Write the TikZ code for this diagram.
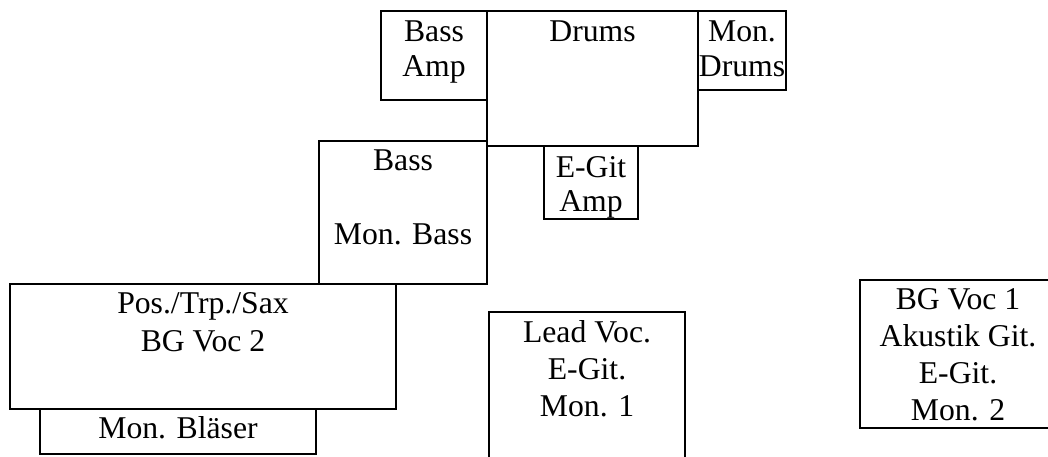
\documentclass[tikz,border=0pt]{standalone}
\usepackage{fontspec}
\setmainfont{Liberation Serif}
\begin{document}
\begin{tikzpicture}[x=1pt,y=-1pt,
  box/.style={draw=black, line width=1.8pt, anchor=north west, inner sep=0pt, outer sep=0pt},
  lbl/.style={anchor=base, align=center, inner sep=0pt},
  sk/.style={font=\fontsize{31.7}{#1}\selectfont}]
\useasboundingbox (0,0) rectangle (1048,457);
% boxes
\node[box, minimum width=106pt, minimum height=89pt] (bassamp) at (381,11) {};
\node[box, minimum width=211pt, minimum height=135pt] (drums) at (487,11) {};
\node[box, minimum width=88pt, minimum height=79pt] (mondrums) at (698,11) {};
\node[box, minimum width=94pt, minimum height=73pt] (egitamp) at (544,146) {};
\node[box, minimum width=168pt, minimum height=143pt] (bass) at (319,141) {};
\node[box, minimum width=386pt, minimum height=125pt] (pos) at (10,284) {};
\node[box, minimum width=276pt, minimum height=45pt] (monbl) at (40,409) {};
\node[box, minimum width=196pt, minimum height=160pt] (lead) at (489,312) {};
\node[box, minimum width=196pt, minimum height=148pt] (bgvoc) at (860,280) {};
% labels (anchored at the baseline of the last line)
\node[lbl, sk=35] (tbassamp) at (434,77) {Bass\\Amp};
\node[lbl, sk=35] (tdrums) at (592.5,42) {Drums};
\node[lbl, sk=35] (tmondrums) at (742,77) {Mon.\\Drums};
\node[lbl, sk=34] (tegitamp) at (591,211) {E-Git\\Amp};
\node[lbl, sk=37] (tbass) at (403,244) {Bass\\[37pt]Mon. Bass};
\node[lbl, sk=38] (tpos) at (203,351) {Pos./Trp./Sax\\BG Voc 2};
\node[lbl, sk=37] (tmonbl) at (178,438) {Mon. Bläser};
\node[lbl, sk=37] (tlead) at (587,416) {Lead Voc.\\E-Git.\\Mon. 1};
\node[lbl, sk=36.7] (tbgvoc) at (958,420) {BG Voc 1\\Akustik Git.\\E-Git.\\Mon. 2};
\end{tikzpicture}
\end{document}
